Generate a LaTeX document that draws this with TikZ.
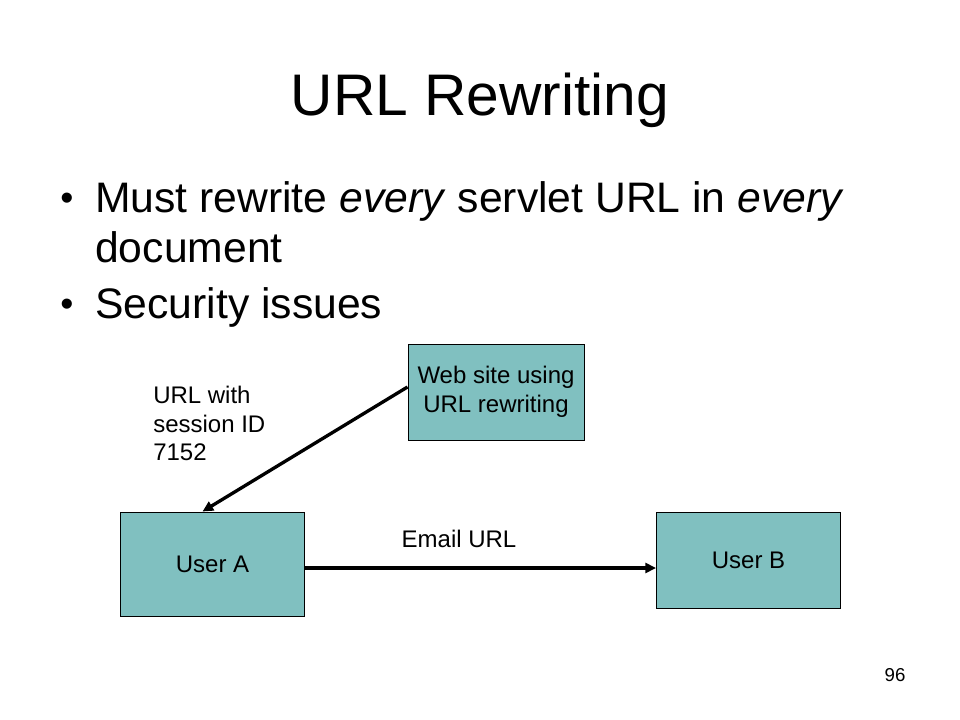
\documentclass[tikz,border=0pt]{standalone}
\usepackage{fontspec}
\setmainfont{Liberation Sans}
\usetikzlibrary{arrows.meta,calc}
\definecolor{boxteal}{HTML}{80C0C0}
\begin{document}
\begin{tikzpicture}[x=0.75pt,y=-0.75pt,
  box/.style={draw=black,line width=0.75pt,fill=boxteal,inner sep=0pt,font=\fontsize{18}{21.5}\selectfont,align=center},
  txt/.style={anchor=base,inner sep=0pt},
  lbl/.style={anchor=base west,inner sep=0pt,font=\fontsize{18}{21.5}\selectfont},
  body/.style={anchor=base west,inner sep=0pt,font=\fontsize{32}{38}\selectfont},
  conn/.style={line width=2.5pt,-{Triangle[length=8pt,width=7.5pt]}}]
\fill[white] (0,0) rectangle (960,720);
\useasboundingbox (0,0) rectangle (960,720);
\node[txt,font=\fontsize{44}{52}\selectfont] (title) at (480,116) {URL Rewriting};
\node[body,font=\fontsize{28}{34}\selectfont] (b1) at (60,211) {•};
\node[body] (t1) at (95,213) {Must rewrite \textit{every} servlet URL in \textit{every}};
\node[body] (t1b) at (95,263) {document};
\node[body,font=\fontsize{28}{34}\selectfont] (b2) at (60,316) {•};
\node[body] (t2) at (95,318) {Security issues};
\node[box,minimum width=132pt,minimum height=72pt] (web) at (496,392) {Web site using\\URL rewriting};
\node[box,minimum width=138pt,minimum height=78pt] (ua) at (212.5,564) {User A};
\node[box,minimum width=138pt,minimum height=72pt] (ub) at (748.5,560.5) {User B};
\node[lbl] (l1) at (153,403) {URL with};
\node[lbl] (l2) at (153,432) {session ID};
\node[lbl] (l3) at (153,460) {7152};
\node[txt,font=\fontsize{18}{21.5}\selectfont] (em) at (459,547) {Email URL};
\node[txt,font=\fontsize{14}{17}\selectfont] (pg) at (895,681) {96};
\draw[conn] ($(web.west)+(0,-5)$) -- ($(ua.north)+(-10,0)$);
\draw[conn] ($(ua.east)+(0,4)$) -- ($(ub.west)+(0,7.5)$);
\end{tikzpicture}
\end{document}
